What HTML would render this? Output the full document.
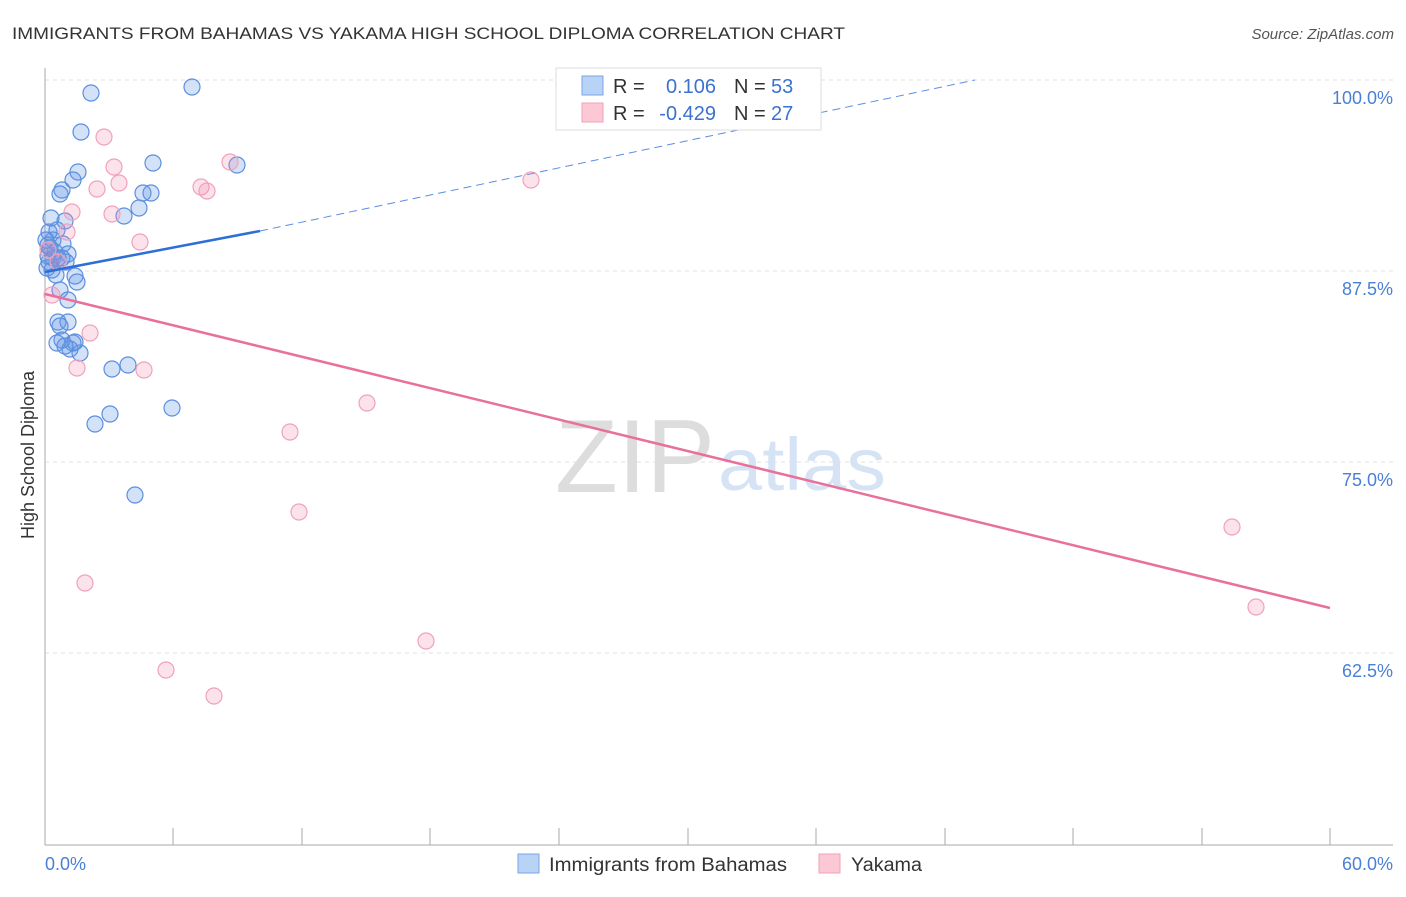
<!DOCTYPE html>
<html><head><meta charset="utf-8"><style>
body{margin:0;background:#fff;}
text{font-family:"Liberation Sans",sans-serif;}
</style></head><body>
<svg width="1406" height="892" xmlns="http://www.w3.org/2000/svg">
<rect width="1406" height="892" fill="#fff"/>
<text x="12" y="39" font-size="17" fill="#333" textLength="833" lengthAdjust="spacingAndGlyphs">IMMIGRANTS FROM BAHAMAS VS YAKAMA HIGH SCHOOL DIPLOMA CORRELATION CHART</text>
<text x="1394" y="39" font-size="15" fill="#555" text-anchor="end" font-style="italic">Source: ZipAtlas.com</text>
<g stroke="#e2e2e2" stroke-dasharray="4,4" stroke-width="1">
<line x1="45" y1="80" x2="1393" y2="80"/><line x1="45" y1="271" x2="1393" y2="271"/>
<line x1="45" y1="462" x2="1393" y2="462"/><line x1="45" y1="653" x2="1393" y2="653"/>
</g>
<text x="555" y="492" font-size="104" fill="#ddd" textLength="160" lengthAdjust="spacingAndGlyphs" font-family="Liberation Serif">ZIP</text>
<text x="718" y="490" font-size="74" fill="#d5e3f5" textLength="168" lengthAdjust="spacingAndGlyphs">atlas</text>
<line x1="45" y1="68" x2="45" y2="845" stroke="#aaa"/>
<line x1="45" y1="845" x2="1393" y2="845" stroke="#aaa"/>
<g stroke="#aaa"><line x1="173" y1="828" x2="173" y2="845"/><line x1="302" y1="828" x2="302" y2="845"/><line x1="430" y1="828" x2="430" y2="845"/><line x1="559" y1="828" x2="559" y2="845"/><line x1="688" y1="828" x2="688" y2="845"/><line x1="816" y1="828" x2="816" y2="845"/><line x1="945" y1="828" x2="945" y2="845"/><line x1="1073" y1="828" x2="1073" y2="845"/><line x1="1202" y1="828" x2="1202" y2="845"/><line x1="1330" y1="828" x2="1330" y2="845"/></g>
<g font-size="18" fill="#4a7fd6" text-anchor="end">
<text x="1393" y="104">100.0%</text><text x="1393" y="295">87.5%</text><text x="1393" y="486">75.0%</text><text x="1393" y="677">62.5%</text>
</g>
<text x="45" y="870" font-size="18" fill="#4a7fd6">0.0%</text>
<text x="1393" y="870" font-size="18" fill="#4a7fd6" text-anchor="end">60.0%</text>
<text transform="translate(34,455) rotate(-90)" font-size="18" fill="#333" text-anchor="middle">High School Diploma</text>
<g fill="rgba(100,150,230,0.28)" stroke="#5b8fdf" stroke-width="1.2">
<circle cx="91" cy="93" r="8"/><circle cx="192" cy="87" r="8"/><circle cx="81" cy="132" r="8"/><circle cx="153" cy="163" r="8"/><circle cx="237" cy="165" r="8"/><circle cx="78" cy="172" r="8"/><circle cx="73" cy="180" r="8"/><circle cx="62" cy="190" r="8"/><circle cx="60" cy="194" r="8"/><circle cx="143" cy="193" r="8"/><circle cx="151" cy="193" r="8"/><circle cx="139" cy="208" r="8"/><circle cx="124" cy="216" r="8"/><circle cx="51" cy="218" r="8"/><circle cx="65" cy="221" r="8"/><circle cx="57" cy="230" r="8"/><circle cx="49" cy="232" r="8"/><circle cx="53" cy="240" r="8"/><circle cx="63" cy="244" r="8"/><circle cx="68" cy="254" r="8"/><circle cx="48" cy="256" r="8"/><circle cx="53" cy="258" r="8"/><circle cx="58" cy="258" r="8"/><circle cx="49" cy="262" r="8"/><circle cx="66" cy="262" r="8"/><circle cx="52" cy="270" r="8"/><circle cx="75" cy="276" r="8"/><circle cx="77" cy="282" r="8"/><circle cx="60" cy="290" r="8"/><circle cx="68" cy="300" r="8"/><circle cx="58" cy="322" r="8"/><circle cx="68" cy="322" r="8"/><circle cx="60" cy="326" r="8"/><circle cx="62" cy="340" r="8"/><circle cx="57" cy="343" r="8"/><circle cx="73" cy="343" r="8"/><circle cx="70" cy="349" r="8"/><circle cx="80" cy="353" r="8"/><circle cx="128" cy="365" r="8"/><circle cx="112" cy="369" r="8"/><circle cx="172" cy="408" r="8"/><circle cx="110" cy="414" r="8"/><circle cx="95" cy="424" r="8"/><circle cx="135" cy="495" r="8"/><circle cx="46" cy="240" r="8"/><circle cx="50" cy="248" r="8"/><circle cx="47" cy="268" r="8"/><circle cx="56" cy="275" r="8"/><circle cx="75" cy="342" r="8"/><circle cx="65" cy="346" r="8"/><circle cx="55" cy="252" r="8"/><circle cx="48" cy="245" r="8"/><circle cx="62" cy="258" r="8"/>
</g>
<g fill="rgba(240,140,175,0.25)" stroke="#f0a2ba" stroke-width="1.2">
<circle cx="104" cy="137" r="8"/><circle cx="114" cy="167" r="8"/><circle cx="230" cy="162" r="8"/><circle cx="97" cy="189" r="8"/><circle cx="119" cy="183" r="8"/><circle cx="201" cy="187" r="8"/><circle cx="207" cy="191" r="8"/><circle cx="72" cy="212" r="8"/><circle cx="112" cy="214" r="8"/><circle cx="67" cy="232" r="8"/><circle cx="140" cy="242" r="8"/><circle cx="58" cy="262" r="8"/><circle cx="52" cy="295" r="8"/><circle cx="90" cy="333" r="8"/><circle cx="77" cy="368" r="8"/><circle cx="144" cy="370" r="8"/><circle cx="367" cy="403" r="8"/><circle cx="290" cy="432" r="8"/><circle cx="299" cy="512" r="8"/><circle cx="531" cy="180" r="8"/><circle cx="85" cy="583" r="8"/><circle cx="166" cy="670" r="8"/><circle cx="214" cy="696" r="8"/><circle cx="426" cy="641" r="8"/><circle cx="1232" cy="527" r="8"/><circle cx="1256" cy="607" r="8"/><circle cx="48" cy="250" r="8"/>
</g>
<line x1="45" y1="272" x2="260" y2="231" stroke="#2d6fd6" stroke-width="2.5"/>
<line x1="260" y1="231" x2="975" y2="80" stroke="#5b8fdf" stroke-width="1" stroke-dasharray="8,5"/>
<line x1="45" y1="294" x2="1330" y2="608" stroke="#e8709a" stroke-width="2.5"/>
<rect x="556" y="68" width="265" height="62" fill="#fff" stroke="#ddd"/>
<rect x="582" y="76" width="21" height="19" fill="#b8d3f5" stroke="#7aa6e6"/>
<rect x="582" y="103" width="21" height="19" fill="#fcc8d6" stroke="#f0a2ba"/>
<g font-size="20"><text x="613" y="93" fill="#333">R =</text><text x="716" y="93" fill="#3a72d0" text-anchor="end">0.106</text><text x="734" y="93" fill="#333">N =</text><text x="771" y="93" fill="#3a72d0">53</text>
<text x="613" y="120" fill="#333">R =</text><text x="716" y="120" fill="#3a72d0" text-anchor="end">-0.429</text><text x="734" y="120" fill="#333">N =</text><text x="771" y="120" fill="#3a72d0">27</text></g>
<rect x="518" y="854" width="21" height="19" fill="#b8d3f5" stroke="#7aa6e6"/>
<text x="549" y="871" font-size="19" fill="#333" textLength="238" lengthAdjust="spacingAndGlyphs">Immigrants from Bahamas</text>
<rect x="819" y="854" width="21" height="19" fill="#fcc8d6" stroke="#f0a2ba"/>
<text x="851" y="871" font-size="19" fill="#333" textLength="71" lengthAdjust="spacingAndGlyphs">Yakama</text>
</svg>
</body></html>
